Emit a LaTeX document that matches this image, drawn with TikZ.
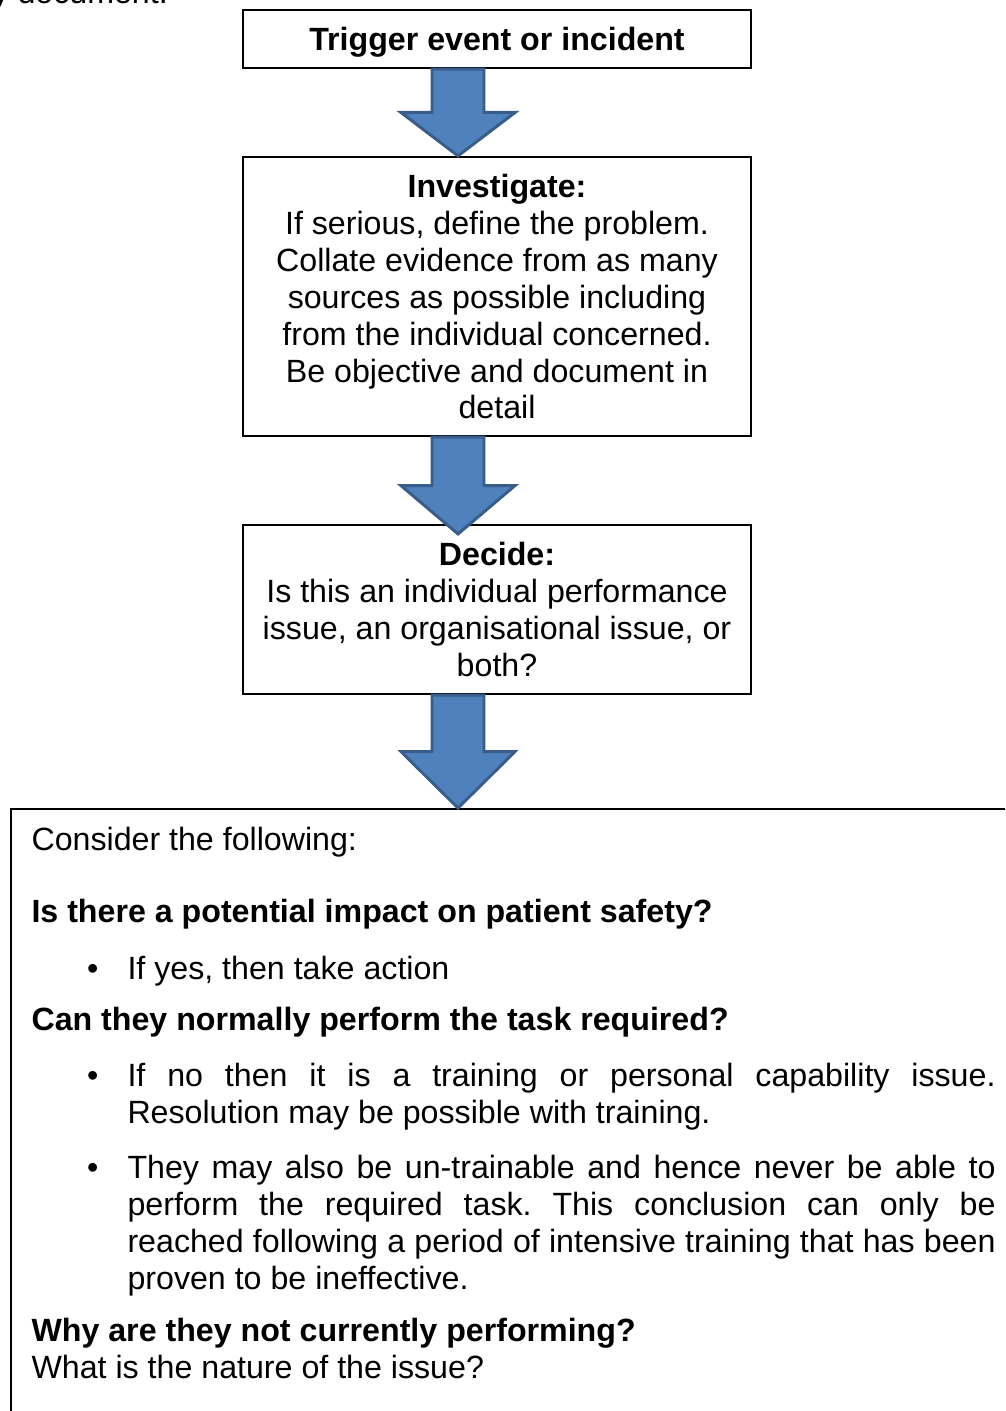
\documentclass[tikz,border=0pt]{standalone}
\usepackage{fontspec}
\setmainfont{Liberation Sans}
\usetikzlibrary{calc}

\definecolor{arrowfill}{HTML}{4F81BD}
\definecolor{arrowline}{HTML}{385D8A}

\tikzset{
  stepbox/.style={draw, line width=0.8pt, minimum width=189.5pt, align=center,
    inner sep=0pt, font=\fontsize{12}{13.8}\selectfont},
  blockarrow/.style={fill=arrowfill, draw=arrowline, line width=1.1pt, line join=miter}
}

% bullet with hanging indent, and a line spread to the full width
\newcommand\bul{\hspace*{20.7pt}\makebox[15.1pt][l]{\textbullet}}
\newcommand\hang{\hspace*{35.8pt}}
\newcommand\just[1]{\makebox[323.8pt][s]{#1}}

% fat arrow from the bottom of one box down to the top of the next
\newcommand\bigarrow[3][0]{%
  \path[blockarrow] let \p1=($(#2.south)+(-39,0)$), \p2=($(#3.north)+(0,#1)$),
    \p3=($(\p1)!0.5!(\p2)$) in
    (\x1-9.7pt,\y1) -- (\x1+9.7pt,\y1) -- (\x1+9.7pt,\y3) -- (\x1+21.3pt,\y3)
    -- (\x1,\y2) -- (\x1-21.3pt,\y3) -- (\x1-9.7pt,\y3) -- cycle;}

\begin{document}
\begin{tikzpicture}[x=0.373pt, y=-0.373pt]
  \useasboundingbox (0,0) rectangle (1005,1411);
  \clip (0,0) rectangle (1005,1411);

  % end of the text above
  \node[anchor=base west, inner sep=0pt, font=\fontsize{12}{13.8}\selectfont] (prev) at (-8,3) {y document.};

  % flow boxes
  \node[stepbox, minimum height=21.6pt, text depth=0pt] (trig) at (497,39) {\textbf{Trigger event or incident}};
  \node[stepbox, minimum height=104.1pt] (inv) at (497,296.5) {\textbf{Investigate:}\\
    If serious, define the problem.\\
    Collate evidence from as many\\
    sources as possible including\\
    from the individual concerned.\\
    Be objective and document in\\
    detail};
  \node[stepbox, minimum height=63pt] (dec) at (497,609.5) {\textbf{Decide:}\\
    Is this an individual performance\\
    issue, an organisational issue, or\\
    both?};
  \node[draw, line width=0.8pt, anchor=north west, inner sep=0pt,
    minimum width=410pt, minimum height=250pt] (cons) at (10,808) {};

  \node[anchor=north west, inner sep=0pt, text width=365pt, align=left,
    font=\fontsize{12}{13.8}\selectfont] (constext) at ($(cons.north west)+(21,18.5)$) {%
    \spaceskip=0pt \xspaceskip=0pt \frenchspacing
    Consider the following:\\[13.1pt]
    \textbf{Is there a potential impact on patient safety?}\\[7.5pt]
    \bul If yes, then take action\\[5.2pt]
    \textbf{Can they normally perform the task required?}\\[7.1pt]
    \bul\just{If no then it is a training or personal capability issue.}\\
    \hang Resolution may be possible with training.\\[6.7pt]
    \bul\just{They may also be un-trainable and hence never be able to}\\
    \hang\just{perform the required task. This conclusion can only be}\\
    \hang\just{reached following a period of intensive training that has been}\\
    \hang proven to be ineffective.\\[5.6pt]
    \textbf{Why are they not currently performing?}\\
    What is the nature of the issue?};

  % arrows between the boxes
  \bigarrow{trig}{inv}
  \bigarrow[10]{inv}{dec}
  \bigarrow{dec}{cons}
\end{tikzpicture}
\end{document}
